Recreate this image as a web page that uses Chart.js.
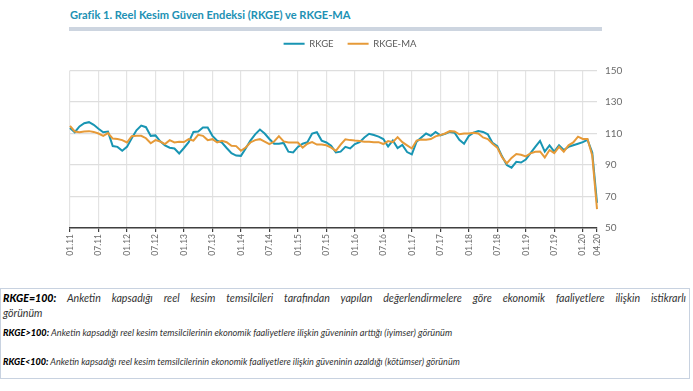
<!DOCTYPE html>
<html lang="tr">
<head>
<meta charset="utf-8">
<script src="https://cdn.jsdelivr.net/npm/chart.js@4.4.1/dist/chart.umd.min.js"></script>
<style>
  body { margin: 0; width: 693px; height: 391px; background: #fff; position: relative; overflow: hidden; font-family: Lato, "Open Sans", sans-serif; }
  #baslik { position: absolute; left: 70px; top: 8px; font-weight: bold; color: #2191b4; font-size: 13px; white-space: nowrap; }
  #cizgi { position: absolute; left: 69px; top: 27px; width: 533px; height: 3.5px; background: #cdd5e0; }
  #grafik { position: absolute; left: 0; top: 0; }
  #notlar { position: absolute; left: 0; top: 288px; width: 690px; height: 91px; border: 1.5px solid #c8d2e0; box-sizing: border-box; }
  .satir { position: absolute; left: 2px; font-family: Lato, sans-serif; font-style: italic; color: #333; font-size: 9.5px; white-space: nowrap; }
  .satir b { color: #000; font-weight: 900; }
</style>
</head>
<body>
<div id="baslik">Grafik 1. Reel Kesim Güven Endeksi (RKGE) ve RKGE-MA</div>
<div id="cizgi"></div>
<canvas id="grafik" width="630" height="265"></canvas>
<div id="notlar">
  <div class="satir" id="s1" style="top:2px"><b>RKGE=100:</b> Anketin kapsadığı reel kesim temsilcileri tarafından yapılan değerlendirmelere göre ekonomik faaliyetlere ilişkin istikrarlı</div>
  <div class="satir" id="s1b" style="top:17px">görünüm</div>
  <div class="satir" id="s2" style="top:38px"><b>RKGE&gt;100:</b> Anketin kapsadığı reel kesim temsilcilerinin ekonomik faaliyetlere ilişkin güveninin arttığı (iyimser) görünüm</div>
  <div class="satir" id="s3" style="top:67px"><b>RKGE&lt;100:</b> Anketin kapsadığı reel kesim temsilcilerinin ekonomik faaliyetlere ilişkin güveninin azaldığı (kötümser) görünüm</div>
</div>
<script>
// ============ VERİLER ============
const yillar = ['11', '12', '13', '14', '15', '16', '17', '18', '19', '20'];
const aylar = ['01', '02', '03', '04', '05', '06', '07', '08', '09', '10', '11', '12'];
const tickEtiketleri = ['01.11', '07.11', '01.12', '07.12', '01.13', '07.13', '01.14', '07.14', '01.15', '07.15',
    '01.16', '07.16', '01.17', '07.17', '01.18', '07.18', '01.19', '07.19', '01.20', '04.20'];

const rkge = [
    113.5, 110.8, 114.5, 116.5, 117.2, 115.5, 113.0, 110.8, 111.2, 102.0, 101.5, 99.0,   // 2011
    101.5, 107.0, 112.0, 115.0, 114.0, 108.5, 108.8, 105.0, 102.5, 101.0, 100.5, 97.3,   // 2012
    100.8, 104.5, 111.0, 111.3, 113.8, 113.8, 108.5, 105.5, 104.3, 100.8, 97.5, 96.0,    // 2013
    95.8, 100.5, 105.5, 109.5, 112.5, 110.0, 106.5, 103.5, 103.5, 104.0, 98.5, 98.0,     // 2014
    101.5, 103.5, 104.5, 110.0, 110.8, 105.5, 104.3, 102.2, 98.0, 98.5, 101.5, 100.5,    // 2015
    103.3, 104.5, 107.5, 109.8, 109.0, 108.0, 106.5, 101.8, 105.6, 100.7, 102.7, 98.2,   // 2016
    96.7, 104.8, 107.5, 110.0, 108.5, 111.0, 108.8, 109.8, 111.0, 110.5, 106.0, 103.5,   // 2017
    108.5, 110.5, 111.5, 111.0, 109.5, 104.0, 102.0, 95.5, 90.0, 88.3, 92.0, 91.6,       // 2018
    93.5, 97.5, 101.5, 105.3, 98.5, 102.5, 98.5, 102.5, 99.5, 101.5, 102.5, 103.5,       // 2019
    104.5, 106.0, 98.0, 66.0                                                             // 2020
];

const rkgeMa = [
    114.8, 111.3, 110.8, 111.3, 111.5, 111.0, 110.0, 108.5, 110.3, 106.8, 106.5, 105.8, // 2011
    104.3, 108.3, 108.5, 108.5, 107.0, 103.8, 105.8, 104.9, 103.3, 105.8, 104.3, 104.8, // 2012
    104.6, 106.4, 105.5, 109.2, 108.5, 105.8, 106.4, 104.3, 105.3, 104.5, 102.2, 102.0, // 2013
    99.0, 101.1, 104.3, 105.8, 106.4, 104.9, 103.3, 104.9, 108.3, 105.0, 104.3, 104.3,  // 2014
    104.3, 101.0, 103.5, 104.5, 103.0, 103.0, 102.5, 101.0, 99.0, 103.0, 106.3, 105.8,  // 2015
    105.5, 105.3, 104.8, 104.8, 104.5, 104.5, 103.3, 105.2, 104.5, 107.7, 104.5, 102.5, // 2016
    100.5, 105.5, 106.2, 106.0, 106.5, 108.2, 109.0, 110.0, 111.5, 111.3, 109.5, 110.0, // 2017
    110.0, 110.5, 110.0, 107.5, 106.5, 103.5, 101.0, 95.0, 91.0, 94.5, 97.0, 96.5,      // 2018
    95.5, 97.4, 98.4, 98.6, 94.8, 99.5, 97.5, 101.5, 98.5, 102.5, 104.3, 108.0,         // 2019
    106.5, 106.5, 96.0, 62.0                                                            // 2020
];

// ay etiketleri 01.11 ... 04.20
const etiketler = [];
yillar.forEach(y => aylar.forEach(a => etiketler.push(a + '.' + y)));
etiketler.length = rkge.length;

const mavi = '#1895b3';
const turuncu = '#e69a38';

// ============ YAZI BOYUTLARI ============
function genislikAyarla(el, hedef) {
    const fs = parseFloat(getComputedStyle(el).fontSize);
    el.style.fontSize = (fs * hedef / el.getBoundingClientRect().width) + 'px';
}
genislikAyarla(document.getElementById('baslik'), 281);
genislikAyarla(document.getElementById('s2'), 450);
genislikAyarla(document.getElementById('s3'), 457);

// ilk satır: biraz büyük, iki yana yaslı
const s1 = document.getElementById('s1');
genislikAyarla(s1, 575);
document.getElementById('s1b').style.fontSize = s1.style.fontSize;
s1.style.whiteSpace = 'normal';
s1.style.width = '683px';
s1.style.textAlign = 'justify';
s1.style.textAlignLast = 'justify';

// ============ GRAFİK ============
const etiketVar = (i) => tickEtiketleri.includes(etiketler[i]);

// legend ile grafik alanı arasında boşluk
const legendBosluk = {
    id: 'legendBosluk',
    beforeInit(chart) {
        const fit = chart.legend.fit;
        chart.legend.fit = function () {
            fit.call(this);
            this.height += 12;
        };
    }
};

const grafik = new Chart(document.getElementById('grafik'), {
    type: 'line',
    data: {
        labels: etiketler,
        datasets: [
            { label: 'RKGE', data: rkge, borderColor: mavi, backgroundColor: mavi, borderWidth: 2, pointRadius: 0, order: 2 },
            { label: 'RKGE-MA', data: rkgeMa, borderColor: turuncu, backgroundColor: turuncu, borderWidth: 2, pointRadius: 0, order: 1 }
        ]
    },
    options: {
        responsive: false,
        animation: false,
        layout: { padding: { left: 70, top: 25, right: 0, bottom: 0 } },
        plugins: {
            legend: {
                labels: {
                    usePointStyle: true,
                    pointStyle: 'line',
                    pointStyleWidth: 21,
                    boxHeight: 9,
                    padding: 14,
                    color: '#595959',
                    font: { family: 'Lato', size: 9.5 },
                    sort: (a, b) => a.datasetIndex - b.datasetIndex
                }
            },
            tooltip: { enabled: false }
        },
        scales: {
            x: {
                grid: {
                    color: c => etiketVar(c.index) && c.index < etiketler.length - 1 ? '#e3e3e3' : 'rgba(0,0,0,0)',
                    tickColor: c => etiketVar(c.index) ? '#404040' : 'rgba(0,0,0,0)',
                    lineWidth: 1.2,
                    tickLength: 4
                },
                border: { color: '#404040', width: 1.5 },
                ticks: {
                    autoSkip: false,
                    minRotation: 90,
                    maxRotation: 90,
                    padding: 2,
                    color: '#6b6b6b',
                    font: { family: 'Lato', size: 8.5 },
                    callback: (v, i) => etiketVar(i) ? etiketler[i] : ''
                },
                afterFit: s => { s.height = 37; }
            },
            y: {
                position: 'right',
                min: 50,
                max: 150,
                grid: { color: '#dedede', lineWidth: 1.2, drawTicks: false },
                border: { display: false },
                ticks: {
                    stepSize: 20,
                    padding: 8,
                    color: '#6b6b6b',
                    font: { family: 'Lato', size: 10 }
                },
                afterFit: s => { s.width = 33; }
            }
        }
    },
    plugins: [legendBosluk]
});
</script>
</body>
</html>
